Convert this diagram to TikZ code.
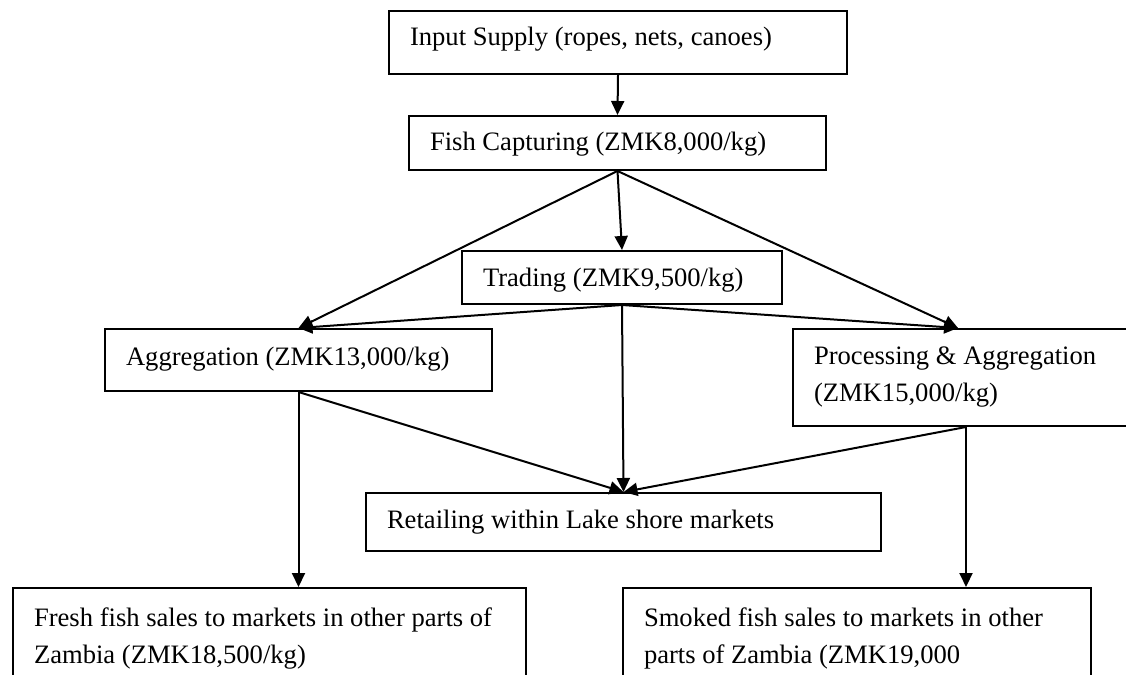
\documentclass[tikz,border=0pt]{standalone}
\usepackage{fontspec}
\setmainfont{Liberation Serif}
\usetikzlibrary{arrows.meta}

\begin{document}
\begin{tikzpicture}[x=1pt, y=-1pt, line width=2pt, >={Triangle[length=14pt,width=13pt]}, box/.style = {draw, anchor=north west, align=flush left, inner xsep=21pt, inner ysep=0pt, font=\fontsize{26.6pt}{37pt}\selectfont}]
\clip (0,0) rectangle (1126,674);
\node[box, text width=416pt, text height=35pt, text depth=28pt] (1) at (388,10) {Input Supply (ropes, nets, canoes)};
\node[box, text width=375pt, text height=34pt, text depth=20pt] (2) at (408,115) {Fish Capturing (ZMK8,000/kg)};
\node[box, text width=278pt, text height=35pt, text depth=18pt] (3) at (461,250) {Trading (ZMK9,500/kg)};
\node[box, text width=345pt, text height=36pt, text depth=26pt] (4) at (104,328) {Aggregation (ZMK13,000/kg)};
\node[box, text width=304pt, text height=35pt, text depth=62pt] (5) at (792,328) {Processing \& Aggregation\\(ZMK15,000/kg)};
\node[box, text width=473pt, text height=35pt, text depth=23pt] (6) at (365,492) {Retailing within Lake shore markets};
\node[box, text width=471pt, text height=38pt, text depth=80pt] (7) at (12,587) {Fresh fish sales to markets in other parts of\\Zambia (ZMK18,500/kg)};
\node[box, text width=426pt, text height=38pt, text depth=80pt] (8) at (622,587) {Smoked fish sales to markets in other\\parts of Zambia (ZMK19,000};
\draw[->] (1.south) -- (2.north);
\draw[->] (2.south) -- (3.north);
\draw[->] (2.south) -- (4.north);
\draw[->] (2.south) -- ([xshift=-8pt]5.north);
\draw[->] (3.south) -- (4.north);
\draw[->] (3.south) -- ([xshift=-8pt]5.north);
\draw[->] (3.south) -- (6.north);
\draw[->] (4.south) -- (6.north);
\draw[->] (5.south) -- (6.north);
\draw[->] (4.south) -- (4.south |- 7.north);
\draw[->] (5.south) -- (5.south |- 8.north);
\end{tikzpicture}
\end{document}
